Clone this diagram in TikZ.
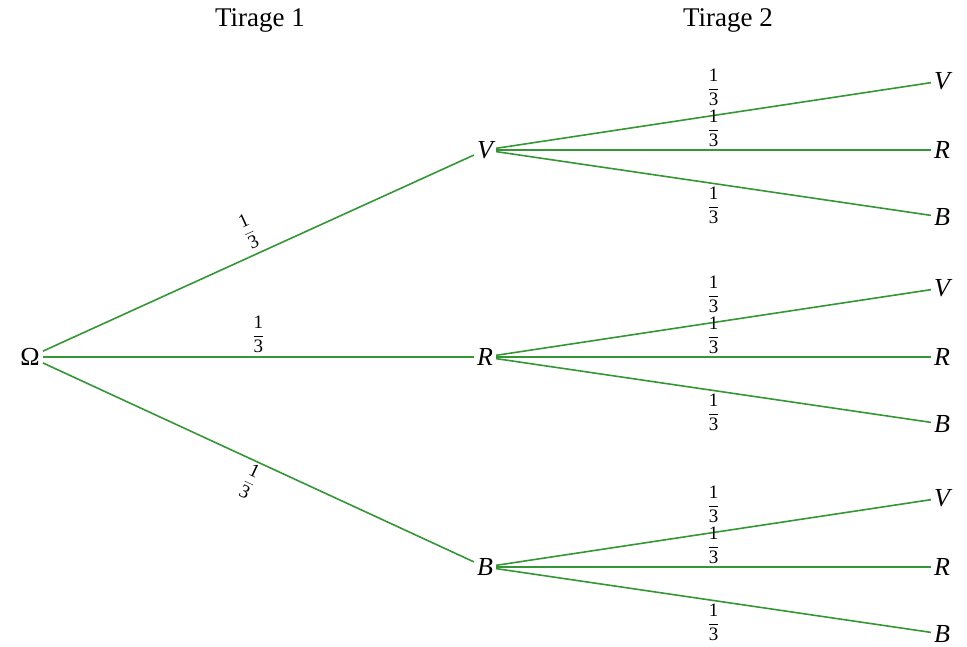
\documentclass[tikz,border=0pt]{standalone}
\usepackage{fontspec}
\setmainfont{Liberation Serif}
\definecolor{branch}{RGB}{52,150,52}
\newcommand{\tiers}{{\fontsize{19}{20}\selectfont$\displaystyle\frac{\hbox{1}}{\hbox{3}}$}}
\tikzset{
  lbl/.style={font=\fontsize{26}{30}\selectfont\itshape, inner sep=3pt},
  title/.style={font=\fontsize{27}{32}\selectfont},
  br/.style={draw=branch, line width=1.6pt},
  prob/.style={inner sep=0pt, font=\fontsize{19}{20}\selectfont}
}
\begin{document}
\begin{tikzpicture}[x=1pt,y=-1pt]
\useasboundingbox (0,0) rectangle (967,647);
\node[title] (t1) at (260,20) {Tirage 1};
\node[title] (t2) at (728,20) {Tirage 2};

\node[lbl, font=\fontsize{26}{30}\selectfont] (O) at (30,357) {Ω};
\node[lbl] (V) at (485,150) {V};
\node[lbl] (R) at (485,357) {R};
\node[lbl] (B) at (485,567) {B};

\foreach \p/\y in {V/150,R/357,B/567}{
  \pgfmathsetmacro{\ya}{\y-69}
  \pgfmathsetmacro{\yc}{\y+67}
  \node[lbl] (\p V) at (942,\ya) {V};
  \node[lbl] (\p R) at (942,\y) {R};
  \node[lbl] (\p B) at (942,\yc) {B};
}

% first level
\draw[br] (O) -- node[prob, sloped, above=5pt] {\tiers} (V);
\draw[br] (O) -- node[prob, above=4pt] {\tiers} (R);
\draw[br] (O) -- node[prob, sloped, below=2pt] {\tiers} (B);

% second level
\foreach \p in {V,R,B}{
  \draw[br] (\p) -- node[prob, above=9pt] {\tiers} (\p V);
  \draw[br] (\p) -- node[prob, above=3pt] {\tiers} (\p R);
  \draw[br] (\p) -- node[prob, below=3pt] {\tiers} (\p B);
}
\end{tikzpicture}
\end{document}
